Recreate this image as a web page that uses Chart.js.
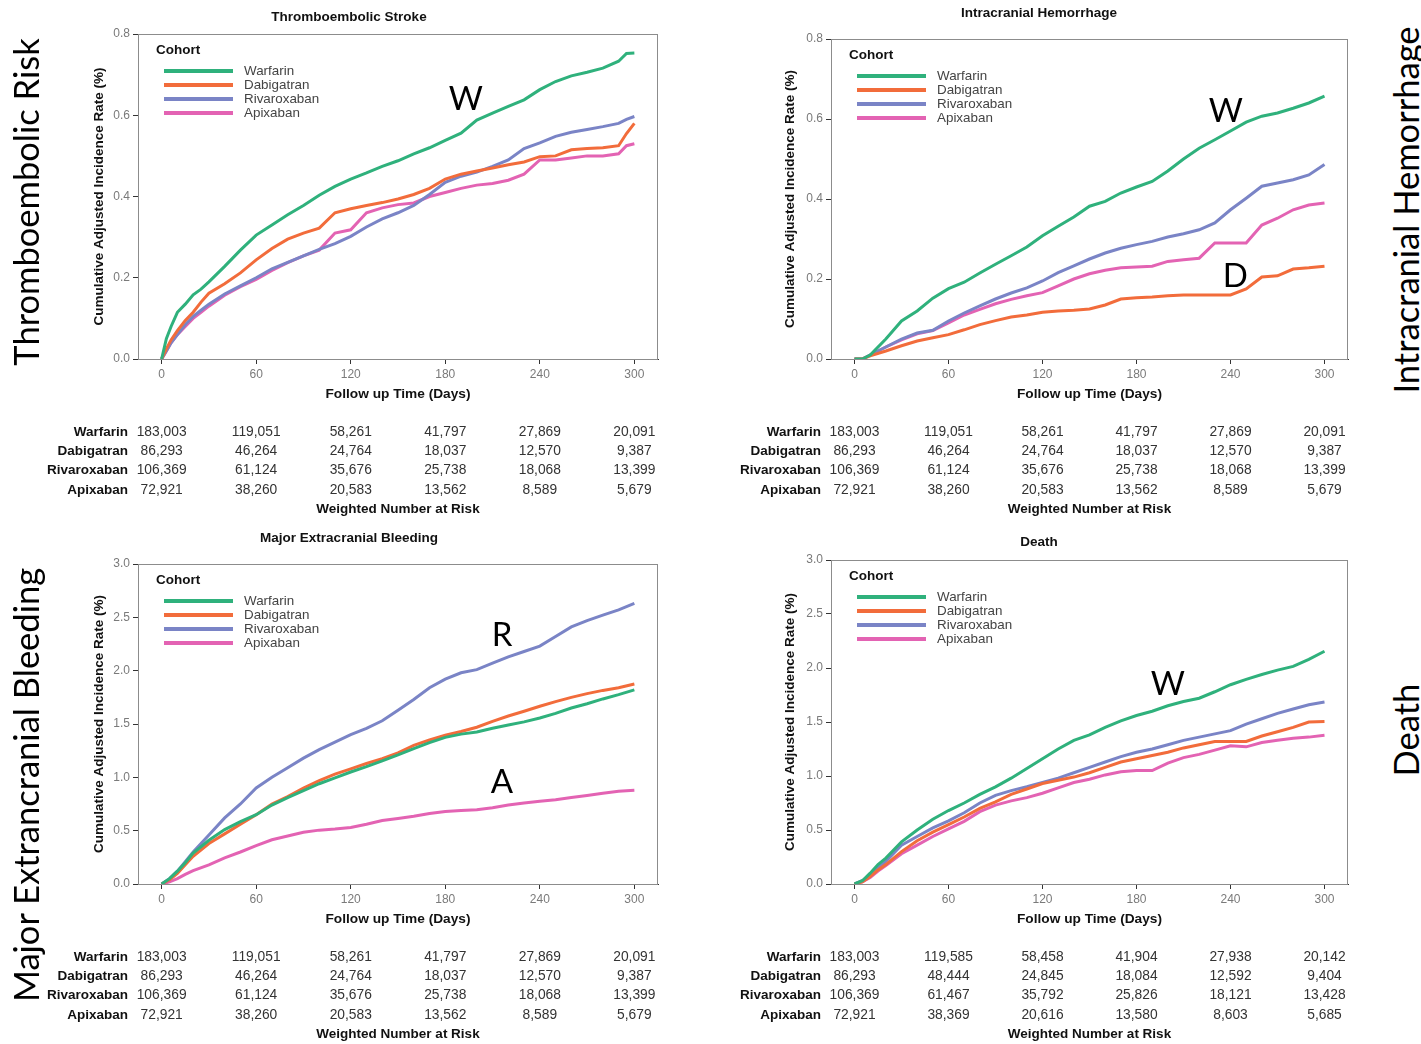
<!DOCTYPE html>
<html>
<head>
<meta charset="utf-8">
<title>Cumulative adjusted incidence by cohort</title>
<script src="https://cdn.jsdelivr.net/npm/chart.js@4.4.1/dist/chart.umd.min.js"></script>
<style>
  body { margin: 0; background: #fff; width: 1421px; height: 1044px; position: relative; overflow: hidden; }
  canvas { position: absolute; }
  .side { position: absolute; font-family: Lato, "Open Sans", sans-serif; font-size: 34.5px; color: #000;
          white-space: nowrap; transform: translate(-50%, -50%) rotate(-90deg); }
</style>
</head>
<body>
<canvas id="strokeChart" width="640" height="520" style="left:40px;top:0px"></canvas>
<canvas id="ichChart" width="640" height="520" style="left:730px;top:0px"></canvas>
<canvas id="bleedChart" width="640" height="519" style="left:40px;top:525px"></canvas>
<canvas id="deathChart" width="640" height="519" style="left:730px;top:525px"></canvas>

<div class="side" style="left:25px;top:202px">Thromboembolic Risk</div>
<div class="side" style="left:1405px;top:210px">Intracranial Hemorrhage</div>
<div class="side" style="left:25px;top:785px">Major Extrancranial Bleeding</div>
<div class="side" style="left:1405px;top:730px">Death</div>

<script>
const cohorts = ['Warfarin', 'Dabigatran', 'Rivaroxaban', 'Apixaban'];
const cohortColors = ['#2fb17c', '#f26c3b', '#7a84c6', '#e363b3'];
const xTicks = [0, 60, 120, 180, 240, 300];

// Thromboembolic Stroke
const strokeDays = [0, 3, 6, 10, 15, 20, 25, 30, 40, 50, 60, 70, 80, 90, 100, 110, 120, 130, 140, 150, 160, 170, 180, 190, 200, 210, 220, 230, 240, 250, 260, 270, 280, 290, 295, 300];
const strokeWarfarin = [0, 0.05, 0.08, 0.115, 0.135, 0.158, 0.172, 0.19, 0.228, 0.268, 0.305, 0.33, 0.355, 0.378, 0.403, 0.425, 0.443, 0.458, 0.474, 0.488, 0.505, 0.52, 0.538, 0.556, 0.588, 0.605, 0.622, 0.638, 0.663, 0.683, 0.697, 0.706, 0.716, 0.733, 0.752, 0.753];
const strokeDabigatran = [0, 0.025, 0.047, 0.07, 0.095, 0.115, 0.14, 0.162, 0.185, 0.212, 0.244, 0.272, 0.295, 0.31, 0.322, 0.36, 0.37, 0.378, 0.385, 0.394, 0.405, 0.42, 0.443, 0.455, 0.463, 0.47, 0.478, 0.485, 0.498, 0.5, 0.515, 0.518, 0.52, 0.525, 0.555, 0.58];
const strokeRivaroxaban = [0, 0.02, 0.04, 0.06, 0.085, 0.105, 0.12, 0.135, 0.16, 0.18, 0.2, 0.222, 0.238, 0.254, 0.27, 0.284, 0.302, 0.325, 0.345, 0.36, 0.378, 0.405, 0.435, 0.45, 0.46, 0.474, 0.49, 0.518, 0.532, 0.548, 0.558, 0.565, 0.572, 0.58, 0.59, 0.597];
const strokeApixaban = [0, 0.02, 0.04, 0.06, 0.08, 0.1, 0.115, 0.13, 0.157, 0.178, 0.196, 0.218, 0.237, 0.254, 0.268, 0.31, 0.318, 0.36, 0.372, 0.38, 0.384, 0.4, 0.41, 0.42, 0.428, 0.432, 0.44, 0.455, 0.49, 0.49, 0.495, 0.5, 0.5, 0.505, 0.525, 0.53];

// Intracranial Hemorrhage
const ichDays = [0, 5, 10, 20, 30, 40, 50, 60, 70, 80, 90, 100, 110, 120, 130, 140, 150, 160, 170, 180, 190, 200, 210, 220, 230, 240, 250, 260, 270, 280, 290, 300];
const ichWarfarin = [0, 0, 0.01, 0.05, 0.095, 0.12, 0.152, 0.176, 0.192, 0.215, 0.237, 0.258, 0.28, 0.308, 0.332, 0.355, 0.382, 0.394, 0.415, 0.43, 0.444, 0.47, 0.5, 0.527, 0.548, 0.57, 0.592, 0.607, 0.615, 0.627, 0.64, 0.657];
const ichDabigatran = [0, 0, 0.008, 0.02, 0.033, 0.045, 0.053, 0.061, 0.073, 0.086, 0.096, 0.105, 0.11, 0.117, 0.12, 0.122, 0.125, 0.135, 0.15, 0.153, 0.155, 0.158, 0.16, 0.16, 0.16, 0.16, 0.175, 0.205, 0.208, 0.225, 0.228, 0.232];
const ichRivaroxaban = [0, 0, 0.01, 0.03, 0.05, 0.065, 0.072, 0.095, 0.115, 0.133, 0.15, 0.165, 0.178, 0.195, 0.216, 0.233, 0.25, 0.265, 0.277, 0.286, 0.294, 0.305, 0.313, 0.323, 0.34, 0.373, 0.402, 0.432, 0.44, 0.448, 0.46, 0.486];
const ichApixaban = [0, 0, 0.01, 0.03, 0.048, 0.063, 0.071, 0.09, 0.11, 0.124, 0.138, 0.149, 0.158, 0.166, 0.183, 0.2, 0.213, 0.222, 0.228, 0.23, 0.232, 0.244, 0.248, 0.252, 0.29, 0.29, 0.29, 0.335, 0.352, 0.373, 0.385, 0.39];

// Major Extracranial Bleeding
const bleedDays = [0, 5, 10, 15, 20, 30, 40, 50, 60, 70, 80, 90, 100, 110, 120, 130, 140, 150, 160, 170, 180, 190, 200, 210, 220, 230, 240, 250, 260, 270, 280, 290, 300];
const bleedWarfarin = [0, 0.05, 0.12, 0.2, 0.29, 0.41, 0.51, 0.585, 0.65, 0.74, 0.81, 0.875, 0.94, 0.995, 1.05, 1.1, 1.155, 1.21, 1.27, 1.325, 1.375, 1.405, 1.425, 1.46, 1.49, 1.52, 1.556, 1.6, 1.65, 1.69, 1.735, 1.775, 1.82];
const bleedDabigatran = [0, 0.04, 0.1, 0.18, 0.26, 0.38, 0.47, 0.56, 0.65, 0.75, 0.82, 0.9, 0.97, 1.03, 1.08, 1.13, 1.175, 1.23, 1.3, 1.35, 1.395, 1.43, 1.47, 1.525, 1.575, 1.62, 1.666, 1.71, 1.75, 1.785, 1.815, 1.84, 1.875];
const bleedRivaroxaban = [0, 0.05, 0.12, 0.21, 0.3, 0.46, 0.62, 0.75, 0.9, 1.0, 1.09, 1.18, 1.26, 1.33, 1.4, 1.46, 1.53, 1.63, 1.73, 1.84, 1.92, 1.98, 2.01, 2.07, 2.13, 2.18, 2.23, 2.32, 2.41, 2.47, 2.52, 2.57, 2.63];
const bleedApixaban = [0, 0.02, 0.05, 0.09, 0.125, 0.18, 0.245, 0.3, 0.36, 0.415, 0.45, 0.485, 0.505, 0.515, 0.53, 0.56, 0.595, 0.615, 0.635, 0.66, 0.68, 0.688, 0.697, 0.715, 0.74, 0.76, 0.775, 0.79, 0.81, 0.83, 0.85, 0.87, 0.878];

// Death
const deathDays = [0, 5, 10, 15, 20, 30, 40, 50, 60, 70, 80, 90, 100, 110, 120, 130, 140, 150, 160, 170, 180, 190, 200, 210, 220, 230, 240, 250, 260, 270, 280, 290, 300];
const deathWarfarin = [0, 0.03, 0.1, 0.18, 0.24, 0.39, 0.5, 0.6, 0.68, 0.75, 0.83, 0.9, 0.98, 1.07, 1.16, 1.25, 1.33, 1.38, 1.45, 1.51, 1.56, 1.6, 1.65, 1.69, 1.72, 1.78, 1.845, 1.895, 1.94, 1.98, 2.015, 2.08, 2.155];
const deathDabigatran = [0, 0.02, 0.07, 0.13, 0.18, 0.3, 0.4, 0.48, 0.55, 0.62, 0.7, 0.76, 0.83, 0.88, 0.93, 0.96, 0.99, 1.03, 1.08, 1.13, 1.16, 1.19, 1.22, 1.26, 1.29, 1.32, 1.32, 1.32, 1.37, 1.41, 1.45, 1.5, 1.505];
const deathRivaroxaban = [0, 0.03, 0.08, 0.15, 0.21, 0.36, 0.44, 0.52, 0.585, 0.66, 0.75, 0.82, 0.865, 0.9, 0.94, 0.98, 1.03, 1.08, 1.13, 1.18, 1.22, 1.25, 1.29, 1.33, 1.36, 1.39, 1.42, 1.48, 1.53, 1.58, 1.62, 1.66, 1.685];
const deathApixaban = [0, 0.02, 0.06, 0.12, 0.17, 0.28, 0.36, 0.44, 0.51, 0.58, 0.67, 0.73, 0.77, 0.8, 0.84, 0.89, 0.94, 0.97, 1.01, 1.04, 1.05, 1.05, 1.12, 1.17, 1.2, 1.24, 1.28, 1.27, 1.31, 1.33, 1.35, 1.36, 1.377];

// Weighted number at risk (stroke, ICH and bleeding share one table)
const riskWarfarin = [183003, 119051, 58261, 41797, 27869, 20091];
const riskDabigatran = [86293, 46264, 24764, 18037, 12570, 9387];
const riskRivaroxaban = [106369, 61124, 35676, 25738, 18068, 13399];
const riskApixaban = [72921, 38260, 20583, 13562, 8589, 5679];
const deathRiskWarfarin = [183003, 119585, 58458, 41904, 27938, 20142];
const deathRiskDabigatran = [86293, 48444, 24845, 18084, 12592, 9404];
const deathRiskRivaroxaban = [106369, 61467, 35792, 25826, 18121, 13428];
const deathRiskApixaban = [72921, 38369, 20616, 13580, 8603, 5685];

const yTicksSmall = [0, 0.2, 0.4, 0.6, 0.8];
const yTicksLarge = [0, 0.5, 1.0, 1.5, 2.0, 2.5, 3.0];

const FONT = '"Liberation Sans", Arial, sans-serif';
Chart.defaults.font.family = FONT;

function makePanel(id, cfg) {
  const L = cfg.box;
  const plugins = [{
    id: 'panelFrame',
    beforeDatasetsDraw(chart) {
      const { ctx, chartArea: a } = chart;
      ctx.save();
      ctx.strokeStyle = '#8c8c8c';
      ctx.lineWidth = 1;
      ctx.strokeRect(a.left + 0.5, a.top + 0.5, a.right - a.left - 1, a.bottom - a.top);
      ctx.restore();
    }
  }, {
    id: 'cohortLegend',
    afterDatasetsDraw(chart) {
      const { ctx, chartArea: a } = chart;
      ctx.save();
      ctx.textBaseline = 'middle';
      ctx.textAlign = 'left';
      ctx.font = 'bold 13.5px ' + FONT;
      ctx.fillStyle = '#111';
      ctx.fillText('Cohort', a.left + 18, a.top + 16);
      ctx.font = '13.4px ' + FONT;
      chart.data.datasets.forEach((ds, i) => {
        const y = a.top + 37 + i * 14;
        ctx.strokeStyle = ds.borderColor;
        ctx.lineWidth = 4;
        ctx.beginPath();
        ctx.moveTo(a.left + 26, y);
        ctx.lineTo(a.left + 95, y);
        ctx.stroke();
        ctx.fillStyle = '#444';
        ctx.fillText(ds.label, a.left + 106, y);
      });
      ctx.restore();
    }
  }, {
    id: 'letters',
    afterDatasetsDraw(chart) {
      const { ctx, scales: { x, y } } = chart;
      ctx.save();
      ctx.font = '33px Lato, "Open Sans", sans-serif';
      ctx.fillStyle = '#000';
      ctx.textAlign = 'center';
      ctx.textBaseline = 'middle';
      cfg.letters.forEach(l => ctx.fillText(l.text, x.getPixelForValue(l.day), y.getPixelForValue(l.value)));
      ctx.restore();
    }
  }, {
    id: 'riskTable',
    afterDraw(chart) {
      const { ctx, chartArea: a, scales: { x } } = chart;
      ctx.save();
      ctx.textBaseline = 'middle';
      cfg.risk.forEach((row, r) => {
        const y = a.bottom + 73 + r * 19.3;
        ctx.font = 'bold 13.5px ' + FONT;
        ctx.textAlign = 'right';
        ctx.fillStyle = '#111';
        ctx.fillText(cohorts[r], a.left - 10, y);
        ctx.font = '13.8px ' + FONT;
        ctx.textAlign = 'center';
        ctx.fillStyle = '#333';
        row.forEach((n, i) => ctx.fillText(n.toLocaleString('en-US'), x.getPixelForValue(xTicks[i]), y));
      });
      ctx.font = 'bold 13.5px ' + FONT;
      ctx.textAlign = 'center';
      ctx.fillStyle = '#111';
      ctx.fillText('Weighted Number at Risk', (a.left + a.right) / 2, a.bottom + 150);
      ctx.restore();
    }
  }];

  const canvas = document.getElementById(id);
  return new Chart(canvas, {
    type: 'line',
    data: {
      datasets: cohorts.map((name, i) => ({
        label: name,
        data: cfg.days.map((d, k) => ({ x: d, y: cfg.series[i][k] })),
        borderColor: cohortColors[i],
        backgroundColor: cohortColors[i],
        borderWidth: 3,
        pointRadius: 0,
        fill: false
      }))
    },
    options: {
      responsive: false,
      animation: false,
      layout: {
        padding: { left: 0, top: 0, right: L.canvasLeft + canvas.width - L.right, bottom: L.canvasTop + canvas.height - L.bottom - 42 }
      },
      plugins: {
        legend: { display: false },
        tooltip: { enabled: false },
        title: {
          display: true,
          text: cfg.title,
          color: '#111',
          font: { size: 13.5, weight: 'bold' },
          padding: { top: L.titleY - L.canvasTop - 8.1, bottom: L.top - L.titleY - 8.1 }
        }
      },
      scales: {
        x: {
          type: 'linear',
          min: -15,
          max: 315,
          afterBuildTicks: s => { s.ticks = xTicks.map(v => ({ value: v })); },
          afterFit: s => { s.height = 42; },
          ticks: { color: '#7a7a7a', font: { size: 12 }, padding: 3, maxRotation: 0, autoSkip: false },
          grid: { drawOnChartArea: false, tickLength: 5, color: '#333' },
          border: { color: '#333' },
          title: { display: true, text: 'Follow up Time (Days)', color: '#111', font: { size: 13.7, weight: 'bold' }, padding: { top: 0, bottom: -1.2 } }
        },
        y: {
          min: 0,
          max: cfg.yMax,
          afterBuildTicks: s => { s.ticks = cfg.yTicks.map(v => ({ value: v })); },
          afterFit: s => { s.width = L.left - L.canvasLeft; },
          ticks: { color: '#7a7a7a', font: { size: 12 }, padding: 3, callback: v => v.toFixed(1) },
          grid: { drawOnChartArea: false, tickLength: 5, color: '#333' },
          border: { color: '#333' },
          title: { display: true, text: 'Cumulative Adjusted Incidence Rate (%)', color: '#111', font: { size: 13.5, weight: 'bold' }, padding: { top: L.yTitleX - L.canvasLeft - 8.1, bottom: 0 } }
        }
      }
    },
    plugins
  });
}

makePanel('strokeChart', {
  title: 'Thromboembolic Stroke',
  days: strokeDays,
  series: [strokeWarfarin, strokeDabigatran, strokeRivaroxaban, strokeApixaban],
  risk: [riskWarfarin, riskDabigatran, riskRivaroxaban, riskApixaban],
  yMax: 0.8, yTicks: yTicksSmall,
  letters: [{ text: 'W', day: 193, value: 0.64 }],
  box: { canvasLeft: 40, canvasTop: 0, left: 138, right: 658, top: 34, bottom: 359, titleY: 17, yTitleX: 99 }
});

makePanel('ichChart', {
  title: 'Intracranial Hemorrhage',
  days: ichDays,
  series: [ichWarfarin, ichDabigatran, ichRivaroxaban, ichApixaban],
  risk: [riskWarfarin, riskDabigatran, riskRivaroxaban, riskApixaban],
  yMax: 0.8, yTicks: yTicksSmall,
  letters: [{ text: 'W', day: 237, value: 0.62 }, { text: 'D', day: 243, value: 0.207 }],
  box: { canvasLeft: 730, canvasTop: 0, left: 831, right: 1348, top: 39, bottom: 359, titleY: 13, yTitleX: 790 }
});

makePanel('bleedChart', {
  title: 'Major Extracranial Bleeding',
  days: bleedDays,
  series: [bleedWarfarin, bleedDabigatran, bleedRivaroxaban, bleedApixaban],
  risk: [riskWarfarin, riskDabigatran, riskRivaroxaban, riskApixaban],
  yMax: 3.0, yTicks: yTicksLarge,
  letters: [{ text: 'R', day: 216, value: 2.33 }, { text: 'A', day: 216, value: 0.95 }],
  box: { canvasLeft: 40, canvasTop: 525, left: 138, right: 658, top: 564, bottom: 884, titleY: 538, yTitleX: 99 }
});

makePanel('deathChart', {
  title: 'Death',
  days: deathDays,
  series: [deathWarfarin, deathDabigatran, deathRivaroxaban, deathApixaban],
  risk: [deathRiskWarfarin, deathRiskDabigatran, deathRiskRivaroxaban, deathRiskApixaban],
  yMax: 3.0, yTicks: yTicksLarge,
  letters: [{ text: 'W', day: 200, value: 1.85 }],
  box: { canvasLeft: 730, canvasTop: 525, left: 831, right: 1348, top: 560, bottom: 884, titleY: 542, yTitleX: 790 }
});
</script>
</body>
</html>
